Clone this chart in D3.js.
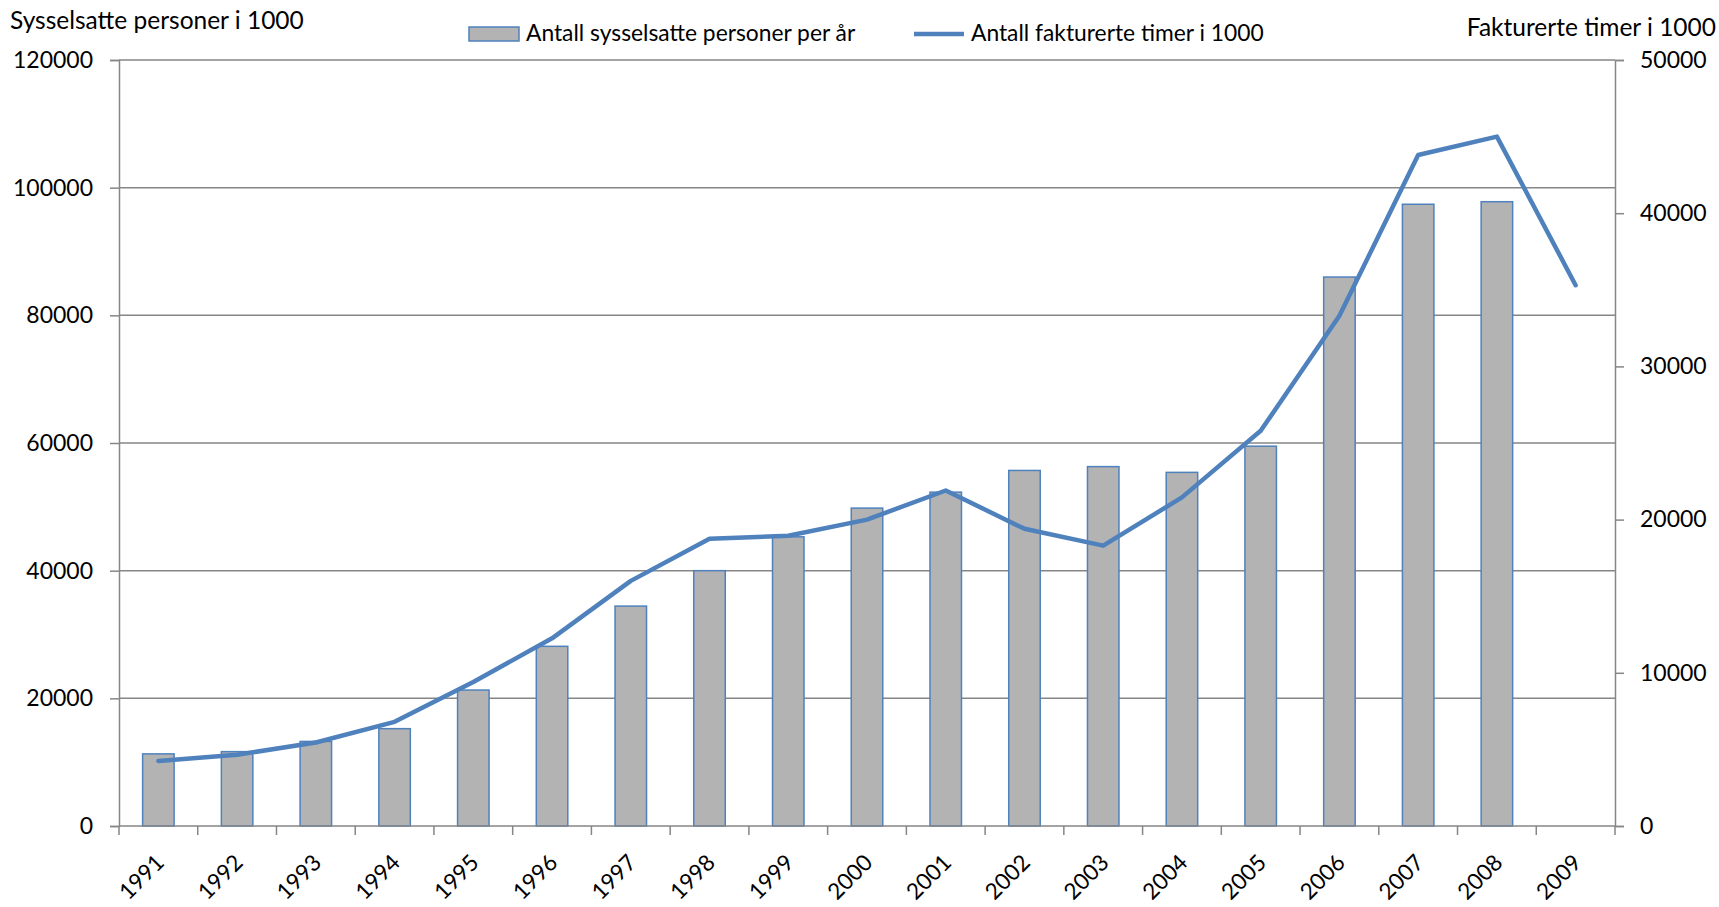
<!DOCTYPE html>
<html>
<head>
<meta charset="utf-8">
<script src="https://cdn.jsdelivr.net/npm/d3@7"></script>
<style>
  body { margin: 0; background: #fff; }
  svg text { font-family: Lato, "Open Sans", sans-serif; fill: #000; }
</style>
</head>
<body>
<script>
const years = ['1991', '1992', '1993', '1994', '1995', '1996', '1997', '1998', '1999', '2000',
  '2001', '2002', '2003', '2004', '2005', '2006', '2007', '2008', '2009']
const persons = [11300, 11650, 13250, 15250, 21300, 28150, 34450, 40000, 45300, 49800,
  52300, 55700, 56300, 55400, 59500, 86000, 97400, 97800, null]
const hours = [4250, 4650, 5450, 6800, 9400, 12250, 16000, 18750, 18950, 20000,
  21900, 19400, 18300, 21450, 25800, 33300, 43800, 45000, 35300]
const leftTicks = [0, 20000, 40000, 60000, 80000, 100000, 120000]
const rightTicks = [0, 10000, 20000, 30000, 40000, 50000]

const barName = 'Antall sysselsatte personer per år'
const lineName = 'Antall fakturerte timer i 1000'
const leftTitle = 'Sysselsatte personer i 1000'
const rightTitle = 'Fakturerte timer i 1000'

const blue = '#4f81bd'
const grey = '#868686'

const svg = d3.select('body').append('svg')
  .attr('width', 1719)
  .attr('height', 907)

const plot = { left: 119, right: 1615, top: 60, bottom: 826 }

const x = d3.scaleBand()
  .domain(years)
  .range([plot.left, plot.right])
  .paddingInner(0.6)
  .paddingOuter(0.3)
const yLeft = d3.scaleLinear().domain([0, 120000]).range([plot.bottom, plot.top])
const yRight = d3.scaleLinear().domain([0, 50000]).range([plot.bottom, plot.top])

const step = x.step()
const center = d => x(d) + x.bandwidth() / 2

// gridlines
svg.append('g')
  .selectAll('line')
  .data(leftTicks.slice(1))
  .enter()
  .append('line')
  .attr('x1', plot.left)
  .attr('x2', plot.right)
  .attr('y1', d => yLeft(d))
  .attr('y2', d => yLeft(d))
  .attr('stroke', grey)
  .attr('stroke-width', 1.5)

// bars
svg.append('g')
  .selectAll('rect')
  .data(years.map((y, i) => ({ year: y, v: persons[i] })).filter(d => d.v != null))
  .enter()
  .append('rect')
  .attr('x', d => x(d.year))
  .attr('width', x.bandwidth())
  .attr('y', d => yLeft(d.v))
  .attr('height', d => yLeft(0) - yLeft(d.v))
  .attr('fill', '#b3b3b3')
  .attr('stroke', blue)
  .attr('stroke-width', 1.5)

// left axis
const leftAxis = svg.append('g')
  .attr('transform', `translate(${plot.left},0)`)
  .call(d3.axisLeft(yLeft).tickValues(leftTicks).tickSize(9).tickPadding(17).tickFormat(d3.format('d')))
leftAxis.select('.domain').attr('stroke', grey).attr('stroke-width', 1.5)
leftAxis.selectAll('.tick line').attr('stroke', grey).attr('stroke-width', 1.5)
leftAxis.selectAll('.tick text').style('font-size', '23px').style('font-family', 'Lato')

// right axis
const rightAxis = svg.append('g')
  .attr('transform', `translate(${plot.right},0)`)
  .call(d3.axisRight(yRight).tickValues(rightTicks).tickSize(9).tickPadding(16).tickFormat(d3.format('d')))
rightAxis.select('.domain').attr('stroke', grey).attr('stroke-width', 1.5)
rightAxis.selectAll('.tick line').attr('stroke', grey).attr('stroke-width', 1.5)
rightAxis.selectAll('.tick text').style('font-size', '23px').style('font-family', 'Lato')

// x axis
const xAxis = svg.append('g')
xAxis.append('line')
  .attr('x1', plot.left)
  .attr('x2', plot.right)
  .attr('y1', yLeft(0))
  .attr('y2', yLeft(0))
  .attr('stroke', grey)
  .attr('stroke-width', 1.5)

const bounds = years.map(d => x(d) - step * 0.3).concat([x(years[years.length - 1]) + step * 0.7])
xAxis.selectAll('.xtick')
  .data(bounds)
  .enter()
  .append('line')
  .attr('x1', d => d)
  .attr('x2', d => d)
  .attr('y1', yLeft(0))
  .attr('y2', yLeft(0) + 9)
  .attr('stroke', grey)
  .attr('stroke-width', 1.5)

xAxis.selectAll('text')
  .data(years)
  .enter()
  .append('text')
  .attr('transform', d => `translate(${center(d) + 7},${yLeft(0) + 38}) rotate(-45)`)
  .attr('text-anchor', 'end')
  .style('font-size', '22.5px')
  .text(d => d)

// line
const line = d3.line()
  .x((d, i) => center(years[i]))
  .y(d => yRight(d))

svg.append('path')
  .datum(hours)
  .attr('d', line)
  .attr('fill', 'none')
  .attr('stroke', blue)
  .attr('stroke-width', 4.5)
  .attr('stroke-linejoin', 'round')
  .attr('stroke-linecap', 'round')

// axis titles
svg.append('text')
  .attr('x', 10)
  .attr('y', 29)
  .style('font-size', '24.5px')
  .text(leftTitle)

svg.append('text')
  .attr('x', 1716)
  .attr('y', 36)
  .attr('text-anchor', 'end')
  .style('font-size', '24.5px')
  .text(rightTitle)

// legend
const legend = svg.append('g')
legend.append('rect')
  .attr('x', 469)
  .attr('y', 27)
  .attr('width', 50)
  .attr('height', 14)
  .attr('fill', '#b3b3b3')
  .attr('stroke', blue)
  .attr('stroke-width', 1.5)
legend.append('text')
  .attr('x', 526)
  .attr('y', 41)
  .style('font-size', '22.8px')
  .text(barName)
legend.append('line')
  .attr('x1', 914)
  .attr('x2', 964)
  .attr('y1', 34)
  .attr('y2', 34)
  .attr('stroke', blue)
  .attr('stroke-width', 4.5)
legend.append('text')
  .attr('x', 971)
  .attr('y', 41)
  .style('font-size', '22.8px')
  .text(lineName)
</script>
</body>
</html>
